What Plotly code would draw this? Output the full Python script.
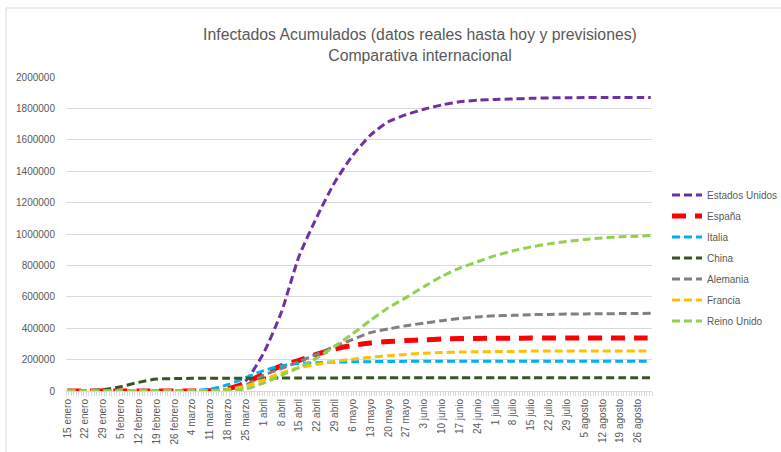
import plotly.graph_objects as go

dates = ["2020-01-15", "2020-01-22", "2020-01-29", "2020-02-05", "2020-02-12", "2020-02-19",
         "2020-02-26", "2020-03-04", "2020-03-11", "2020-03-18", "2020-03-25", "2020-04-01",
         "2020-04-08", "2020-04-15", "2020-04-22", "2020-04-29", "2020-05-06", "2020-05-13",
         "2020-05-20", "2020-05-27", "2020-06-03", "2020-06-10", "2020-06-17", "2020-06-24",
         "2020-07-01", "2020-07-08", "2020-07-15", "2020-07-22", "2020-07-29", "2020-08-05",
         "2020-08-12", "2020-08-19", "2020-08-26", "2020-08-31"]

tick_dates = dates[:-1]
tick_labels = ["15 enero", "22 enero", "29 enero", "5 febrero", "12 febrero", "19 febrero",
               "26 febrero", "4 marzo", "11 marzo", "18 marzo", "25 marzo", "1 abril",
               "8 abril", "15 abril", "22 abril", "29 abril", "6 mayo", "13 mayo",
               "20 mayo", "27 mayo", "3 junio", "10 junio", "17 junio", "24 junio",
               "1 julio", "8 julio", "15 julio", "22 julio", "29 julio", "5 agosto",
               "12 agosto", "19 agosto", "26 agosto"]

estados_unidos = [0, 0, 0, 0, 0, 0, 0, 0, 1000, 9000, 65000, 240000, 500000, 860000, 1110000,
                  1330000, 1500000, 1630000, 1715000, 1760000, 1795000, 1822000, 1842000,
                  1852000, 1857000, 1860000, 1864000, 1867000, 1868000, 1869000, 1869000,
                  1869000, 1869000, 1869000]
espana = [0, 0, 0, 0, 0, 0, 0, 0, 2000, 14000, 50000, 110000, 160000, 195000, 235000, 268000,
          290000, 306000, 315000, 321000, 326000, 331000, 334000, 335000, 336000, 336500,
          337000, 337000, 337000, 337000, 337000, 337000, 337000, 337000]
italia = [0, 0, 0, 0, 0, 0, 0, 2500, 12000, 40000, 85000, 130000, 160000, 175000, 180000,
          184000, 186000, 187000, 188000, 189000, 189000, 190000, 190000, 190000, 190000,
          190000, 190000, 190000, 190000, 190000, 190000, 190000, 190000, 190000]
china = [100, 600, 8000, 28000, 55000, 76000, 79000, 80500, 81000, 81200, 81500, 82000, 82500,
         83000, 83300, 83500, 83700, 83800, 84000, 84000, 84000, 84000, 84000, 84000, 84000,
         84000, 84000, 84000, 84000, 84000, 84000, 84000, 84000, 84000]
alemania = [0, 0, 0, 0, 0, 0, 0, 300, 2000, 12000, 37000, 100000, 142000, 188000, 235000,
            285000, 328000, 372000, 395000, 416000, 432000, 448000, 462000, 472000, 479000,
            482000, 486000, 488000, 490000, 491000, 492000, 493000, 494000, 495000]
francia = [0, 0, 0, 0, 0, 0, 0, 300, 2000, 9000, 30000, 70000, 115000, 148000, 170000, 188000,
           203000, 215000, 225000, 233000, 240000, 245000, 248000, 250000, 251000, 252000,
           254000, 255000, 255000, 255000, 255000, 255000, 255000, 255000]
reino_unido = [0, 0, 0, 0, 0, 0, 0, 100, 500, 3000, 12000, 50000, 100000, 150000, 210000,
               285000, 365000, 450000, 530000, 595000, 665000, 730000, 783000, 823000, 862000,
               893000, 918000, 937000, 952000, 965000, 975000, 982000, 986000, 990000]

y_ticks = [0, 200000, 400000, 600000, 800000, 1000000, 1200000, 1400000, 1600000, 1800000, 2000000]

series = [
    ("Estados Unidos", estados_unidos, "#7030A0", 3, "8px,4px"),
    ("España", espana, "#FF0000", 5, "14px,9px"),
    ("Italia", italia, "#00B0F0", 3, "8px,4px"),
    ("China", china, "#375623", 3, "8px,4px"),
    ("Alemania", alemania, "#808080", 3, "8px,4px"),
    ("Francia", francia, "#FFC000", 3, "8px,4px"),
    ("Reino Unido", reino_unido, "#92D050", 3, "8px,4px"),
]

FONT = "Liberation Sans"
GREY = "#595959"

fig = go.Figure()
for name, vals, color, w, dash in series:
    fig.add_trace(go.Scatter(
        x=dates, y=vals, name=name, mode="lines", legendgroup=name,
        line=dict(color=color, width=w, dash=dash, shape="spline", smoothing=0.6),
    ))

fig.update_layout(
    width=781, height=452,
    paper_bgcolor="white", plot_bgcolor="white",
    margin=dict(l=66, r=129, t=77, b=61, autoexpand=False),
    font=dict(family=FONT, size=10, color=GREY),
    title=dict(
        text="Infectados Acumulados (datos reales hasta hoy y previsiones)<br>Comparativa internacional",
        x=420 / 781, xanchor="center", xref="container",
        y=1 - 40 / 452, yanchor="middle", yref="container",
        font=dict(family=FONT, size=15.8, color=GREY),
    ),
    legend=dict(
        x=(667 - 66) / 586, xanchor="left", y=0.67, yanchor="top",
        font=dict(family=FONT, size=10, color=GREY),
        bgcolor="rgba(0,0,0,0)", itemwidth=30, tracegroupgap=2,
    ),
    showlegend=True,
)

fig.update_xaxes(
    type="date", automargin=False,
    range=["2020-01-14 12:00", "2020-08-31 12:00"],
    tickmode="array", tickvals=tick_dates, ticktext=tick_labels,
    tickangle=-90, tickfont=dict(family=FONT, size=10, color=GREY),
    showgrid=False, showline=True, linecolor="#D9D9D9", linewidth=1,
    ticks="", ticklabelstandoff=3,
    minor=dict(ticks="outside", ticklen=4, tickcolor="#D9D9D9", dtick=86400000,
               tick0="2020-01-14 12:00", showgrid=False),
    zeroline=False,
)
fig.update_yaxes(
    range=[0, 2000000], tickmode="array", tickvals=y_ticks, tickformat="d",
    automargin=False,
    showgrid=True, gridcolor="#D9D9D9", gridwidth=1,
    showline=False, zeroline=False, ticks="", ticklabelstandoff=10,
    tickfont=dict(family=FONT, size=10, color=GREY),
)

fig.add_shape(type="rect", xref="paper", yref="paper",
              x0=(6 - 66) / 586, y0=(391 - 8) / 314, x1=1.6, y1=-0.6,
              line=dict(color="#D9D9D9", width=1), fillcolor="rgba(0,0,0,0)", layer="below")

fig.write_html("out.html", config={"displayModeBar": False},
               post_script="document.body.style.margin='0';document.body.style.padding='0';")
